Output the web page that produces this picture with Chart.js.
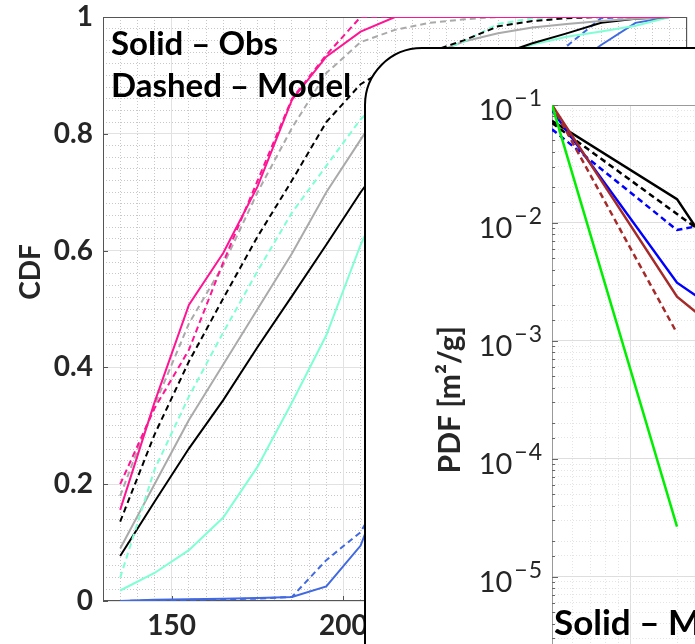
<!DOCTYPE html>
<html>
<head>
<meta charset="utf-8">
<script src="https://cdn.jsdelivr.net/npm/chart.js@4.4.0/dist/chart.umd.min.js"></script>
<style>
  body { margin: 0; background: #fff; overflow: hidden; }
  #wrap { position: relative; width: 695px; height: 644px; overflow: hidden; }
  #cdf { position: absolute; left: 0; top: 0; }
  #inset { position: absolute; left: 364px; top: 47px; width: 470px; height: 720px;
           border: 2px solid #000; border-radius: 58px; background: #fff; overflow: hidden; }
  #pdf { position: absolute; left: 0; top: 0; }
</style>
</head>
<body>
<div id="wrap">
  <canvas id="cdf" width="695" height="644"></canvas>
  <div id="inset"><canvas id="pdf" width="448" height="680"></canvas></div>
</div>
<script>
const FONT = 'Lato, "DejaVu Sans", sans-serif';
const INK = '#262626';

// ---- CDF panel ----
const cdfX = [135,145,155,165,175,185,195,205,215,225,235,245,255,265,275,285,295];
const pinkObs   = [0.156,0.34,0.507,0.596,0.71,0.858,0.932,0.975,1,1,1,1,1,1,1,1,1];
const pinkMod   = [0.20,0.33,0.43,0.58,0.72,0.86,0.935,1,1,1,1,1,1,1,1,1,1];
const grayObs   = [0.09,0.20,0.31,0.405,0.50,0.595,0.70,0.79,0.88,0.935,0.958,0.972,0.982,0.988,0.993,0.997,1];
const grayMod   = [0.18,0.335,0.475,0.575,0.70,0.81,0.904,0.957,0.978,0.99,0.996,1,1,1,1,1,1];
const blackObs  = [0.077,0.17,0.261,0.344,0.435,0.522,0.61,0.70,0.78,0.85,0.90,0.935,0.955,0.972,0.99,0.997,1];
const blackMod  = [0.136,0.285,0.41,0.518,0.624,0.72,0.82,0.885,0.92,0.94,0.96,0.984,0.993,0.998,1,1,1];
const aquaObs   = [0.018,0.048,0.087,0.143,0.23,0.34,0.455,0.61,0.74,0.84,0.90,0.93,0.953,0.966,0.975,0.985,1];
const aquaMod   = [0.04,0.225,0.35,0.46,0.565,0.665,0.745,0.825,0.88,0.935,0.958,0.988,0.998,1,1,1,1];
const blueObs   = [0,0.002,0.003,0.004,0.005,0.007,0.025,0.095,0.25,0.45,0.62,0.76,0.85,0.91,0.952,0.99,1];
const blueMod   = [0,0.001,0.002,0.003,0.004,0.007,0.07,0.118,0.22,0.42,0.62,0.78,0.88,0.95,0.998,1,1];
const cdfYTicks = [0,0.2,0.4,0.6,0.8,1];
const cdfXTicks = [150,200,250,300];

// ---- PDF inset ----
const pdfX = [50,150,250];
const blackObsPdf = [0.0736,0.0159,0.0029];
const blackModPdf = [0.0703,0.0119,0.0052];
const blueObsPdf  = [0.09,0.00311,0.00143];
const blueModPdf  = [0.0622,0.0087,0.0108];
const brownObsPdf = [0.1,0.00237,0.00094];
const brownModPdf = [0.1,0.00116,null];
const greenObsPdf = [0.1,2.65e-5,null];
const pdfPowers = [-6,-5,-4,-3,-2,-1];

function pts(xs, ys) {
  return xs.map((x, i) => ({x, y: ys[i]})).filter(p => p.y != null);
}
function line(ys, xs, color, dashed, width) {
  return {data: pts(xs, ys), borderColor: color, borderWidth: width,
          borderDash: dashed ? [6, 4] : [], pointRadius: 0, tension: 0, fill: false};
}
function steps(a, b, s, skip) {
  const out = [];
  for (let v = a; v <= b + 1e-9; v += s) {
    const r = Math.round(v * 1000) / 1000;
    if (!skip(r)) out.push({value: r});
  }
  return out;
}
// keep the plot box where it is: no extra room for edge labels
function fixSize(w, h) {
  return s => {
    if (w != null) s.width = w;
    if (h != null) s.height = h;
    s.paddingTop = s.paddingBottom = s.paddingLeft = s.paddingRight = 0;
  };
}
const isPow10 = v => Math.abs(Math.log10(v) - Math.round(Math.log10(v))) < 1e-6;

// frame, inward ticks and notes for the CDF axes
const cdfDecor = {
  id: 'cdfDecor',
  beforeDatasetsDraw(c) {
    const {ctx, chartArea: a, scales} = c;
    ctx.save();
    ctx.strokeStyle = '#555';
    ctx.lineWidth = 1;
    ctx.strokeRect(a.left + 0.5, a.top + 0.5, a.width - 1, a.height - 1);
    ctx.beginPath();
    cdfYTicks.forEach(v => {
      const y = Math.round(scales.y.getPixelForValue(v)) + 0.5;
      ctx.moveTo(a.left, y); ctx.lineTo(a.left + 5, y);
    });
    cdfXTicks.forEach(v => {
      const x = Math.round(scales.x.getPixelForValue(v)) + 0.5;
      ctx.moveTo(x, a.bottom); ctx.lineTo(x, a.bottom - 5);
    });
    ctx.stroke();
    ctx.restore();
  },
  afterDraw(c) {
    const {ctx} = c;
    ctx.save();
    ctx.fillStyle = '#000';
    ctx.font = 'bold 33px ' + FONT;
    ctx.textAlign = 'left';
    ctx.textBaseline = 'alphabetic';
    ctx.fillText('Solid \u2013 Obs', 111, 55);
    ctx.fillText('Dashed \u2013 Model', 111, 97);
    ctx.translate(31, 272);
    ctx.rotate(-Math.PI / 2);
    ctx.fillStyle = INK;
    ctx.font = 'bold 28px ' + FONT;
    ctx.textAlign = 'center';
    ctx.textBaseline = 'middle';
    ctx.fillText('CDF', 0, 0);
    ctx.restore();
  }
};

new Chart(document.getElementById('cdf'), {
  type: 'line',
  data: {datasets: [
    line(pinkObs, cdfX, '#ff1493', false, 2),
    line(pinkMod, cdfX, '#ff1493', true, 2),
    line(grayMod, cdfX, '#aaaaaa', true, 2),
    line(blackMod, cdfX, '#000000', true, 2),
    line(aquaMod, cdfX, '#7fffd4', true, 2),
    line(grayObs, cdfX, '#aaaaaa', false, 2),
    line(blackObs, cdfX, '#000000', false, 2),
    line(aquaObs, cdfX, '#7fffd4', false, 2),
    line(blueObs, cdfX, '#4169e1', false, 2),
    line(blueMod, cdfX, '#4169e1', true, 2)
  ]},
  options: {
    responsive: false,
    animation: false,
    layout: {padding: {top: 17, right: 8, left: 0, bottom: 0}},
    plugins: {legend: {display: false}, tooltip: {enabled: false}},
    scales: {
      xMinor: {
        type: 'linear', position: 'bottom', min: 130, max: 300,
        afterBuildTicks: s => { s.ticks = steps(130, 300, 5, v => v % 50 === 0); },
        ticks: {display: false},
        grid: {color: '#c8c8c8', drawTicks: false},
        border: {display: false, dash: [1, 2]},
        afterFit: fixSize(null, 0)
      },
      yMinor: {
        type: 'linear', position: 'left', min: 0, max: 1,
        afterBuildTicks: s => { s.ticks = steps(0, 1, 0.02, v => Math.abs(v * 5 - Math.round(v * 5)) < 1e-6); },
        ticks: {display: false},
        grid: {color: '#c8c8c8', drawTicks: false},
        border: {display: false, dash: [1, 2]},
        afterFit: fixSize(0, null)
      },
      x: {
        type: 'linear', position: 'bottom', min: 130, max: 300,
        afterBuildTicks: s => { s.ticks = cdfXTicks.map(v => ({value: v})); },
        ticks: {color: INK, font: {family: FONT, size: 28, weight: 'bold'}, padding: 8,
                maxRotation: 0, autoSkip: false},
        grid: {color: '#e2e2e2', drawTicks: false},
        border: {display: false},
        afterFit: fixSize(null, 43)
      },
      y: {
        type: 'linear', position: 'left', min: 0, max: 1,
        afterBuildTicks: s => { s.ticks = cdfYTicks.map(v => ({value: v})); },
        ticks: {color: INK, font: {family: FONT, size: 28, weight: 'bold'}, padding: 10,
                autoSkip: false, callback: v => String(Math.round(v * 10) / 10)},
        grid: {color: '#e2e2e2', drawTicks: false},
        border: {display: false},
        afterFit: fixSize(103, null)
      }
    }
  },
  plugins: [cdfDecor]
});

// frame, power-of-ten labels and note for the PDF axes
const pdfDecor = {
  id: 'pdfDecor',
  beforeDatasetsDraw(c) {
    const {ctx, chartArea: a, scales} = c;
    ctx.save();
    ctx.strokeStyle = '#9a9a9a';
    ctx.lineWidth = 1;
    ctx.beginPath();
    ctx.moveTo(a.left + 0.5, a.bottom); ctx.lineTo(a.left + 0.5, a.top + 0.5); ctx.lineTo(a.right, a.top + 0.5);
    ctx.stroke();
    ctx.strokeStyle = '#666';
    ctx.beginPath();
    scales.y.ticks.forEach(t => {
      const y = Math.round(scales.y.getPixelForValue(t.value)) + 0.5;
      const len = isPow10(t.value) ? 6 : 3;
      ctx.moveTo(a.left, y); ctx.lineTo(a.left + len, y);
    });
    ctx.stroke();
    ctx.restore();
  },
  afterDraw(c) {
    const {ctx, chartArea: a, scales} = c;
    ctx.save();
    ctx.fillStyle = INK;
    ctx.textAlign = 'right';
    ctx.textBaseline = 'alphabetic';
    pdfPowers.forEach(p => {
      const y = scales.y.getPixelForValue(Math.pow(10, p));
      const right = a.left - 10;
      ctx.font = '23px ' + FONT;
      const digit = String(-p);
      const wd = ctx.measureText(digit).width;
      ctx.fillText(digit, right, y + 1);
      const wm = ctx.measureText('\u2212').width;
      ctx.fillText('\u2212', right - wd - 1, y + 1);
      ctx.font = '29px ' + FONT;
      ctx.fillText('10', right - wd - wm - 3, y + 15);
    });
    ctx.fillStyle = '#000';
    ctx.textAlign = 'left';
    ctx.font = 'bold 35px ' + FONT;
    ctx.fillText('Solid \u2013 Model', a.left + 2, 586);
    ctx.restore();
  }
};

new Chart(document.getElementById('pdf'), {
  type: 'line',
  data: {datasets: [
    line(greenObsPdf, pdfX, '#00ee00', false, 2.5),
    line(brownModPdf, pdfX, '#a52a2a', true, 2.5),
    line(brownObsPdf, pdfX, '#a52a2a', false, 2.5),
    line(blueModPdf, pdfX, '#0000ff', true, 2.5),
    line(blueObsPdf, pdfX, '#0000ff', false, 2.5),
    line(blackModPdf, pdfX, '#000000', true, 2.5),
    line(blackObsPdf, pdfX, '#000000', false, 2.5)
  ]},
  options: {
    responsive: false,
    animation: false,
    layout: {padding: {top: 56, right: 0, left: 0, bottom: 0}},
    plugins: {legend: {display: false}, tooltip: {enabled: false}},
    scales: {
      x: {
        type: 'logarithmic', position: 'bottom', min: 50, max: 500,
        ticks: {display: false},
        grid: {drawTicks: false, color: c => (c.tick && isPow10(c.tick.value)) ? '#dedede' : '#e4e4e4'},
        border: {display: false, dash: c => (c.tick && !isPow10(c.tick.value)) ? [1, 2] : []},
        afterFit: fixSize(null, 34.5)
      },
      y: {
        type: 'logarithmic', position: 'left', min: 1e-6, max: 0.1,
        ticks: {display: false, autoSkip: false},
        grid: {drawTicks: false, color: c => (c.tick && isPow10(c.tick.value)) ? '#dedede' : '#e4e4e4'},
        border: {display: false, dash: c => (c.tick && !isPow10(c.tick.value)) ? [1, 2] : []},
        title: {display: true, text: 'PDF [m\u00b2/g]', color: INK,
                font: {family: FONT, size: 30, weight: 'bold'}, padding: {top: 66, bottom: 0}},
        afterFit: fixSize(186, null)
      }
    }
  },
  plugins: [pdfDecor]
});
</script>
</body>
</html>
